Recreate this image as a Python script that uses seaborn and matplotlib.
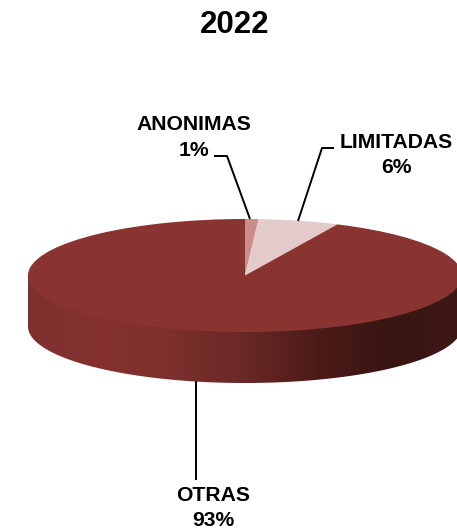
from matplotlib import pyplot as plt
from matplotlib.patches import Polygon
import seaborn as sns
import numpy as np

categorias = ["ANONIMAS", "LIMITADAS", "OTRAS"]
porcentajes = [1, 6, 93]
titulo = "2022"

cores = ["#CB8C8A", "#E3CBCB", "#8A3432"]
cores_lado = ["#7D302E", "#85322F", "#7C2F2C", "#6A2825", "#4C1B19", "#381512", "#3E1815"]

LARGURA, ALTURA = 457, 531
CX, CY = 245, 275.5
RX, RY = 217, 56.5
PROF = 51 / RY

sns.set_theme(style="white")
plt.rcParams["font.family"] = ["Liberation Sans", "DejaVu Sans"]


def px(x, y):
    return (x - CX) / RX, (CY - y) / RY


fig = plt.figure(figsize=(LARGURA / 100, ALTURA / 100), dpi=100)
ax = fig.add_axes([0, 0, 1, 1])

ax.pie(porcentajes, colors=cores, startangle=90, counterclock=False, radius=1,
       wedgeprops={"linewidth": 0}, frame=False)
for w in ax.patches:
    w.set_zorder(3)

# lateral do disco: degrade recortado pela metade de baixo da elipse
t = np.linspace(np.pi, 2 * np.pi, 200)
contorno = np.column_stack([np.cos(t), np.sin(t) - PROF])
contorno = np.vstack([[-1, 0], contorno, [1, 0]])
lado = Polygon(contorno, closed=True, facecolor="none", edgecolor="none", transform=ax.transData)
ax.add_patch(lado)
cmap = sns.blend_palette(cores_lado, n_colors=256, as_cmap=True)
img = ax.imshow(np.linspace(0, 1, 256).reshape(1, -1), cmap=cmap, aspect="auto",
                extent=[-1, 1, -1 - PROF, 0], zorder=2)
img.set_clip_path(lado)

ax.set_aspect("auto")
ax.set_xlim(px(0, 0)[0], px(LARGURA, 0)[0])
ax.set_ylim(px(0, ALTURA)[1], px(0, 0)[1])
ax.axis("off")

# linhas de chamada
linhas = [
    [(214, 156), (227, 156), (250, 219)],
    [(334, 148), (322, 148), (298, 221)],
    [(196, 381), (196, 480)],
]
for linha in linhas:
    xs, ys = zip(*[px(*p) for p in linha])
    ax.plot(xs, ys, color="black", lw=1.4, zorder=4, solid_capstyle="butt")

posicoes = [(194, 137.5), (396, 155), (213, 508)]
for cat, pct, pos in zip(categorias, porcentajes, posicoes):
    x, y = px(*pos)
    ax.text(x, y, f"{cat}\n{pct}%", ha="center", va="center", fontsize=15.2,
            fontweight="bold", color="black", linespacing=1.45, zorder=5)

x, y = px(235, 25)
ax.text(x, y, titulo, ha="center", va="center", fontsize=22.5, fontweight="bold", color="black")

fig.savefig("out.png", dpi=100)
plt.close(fig)
